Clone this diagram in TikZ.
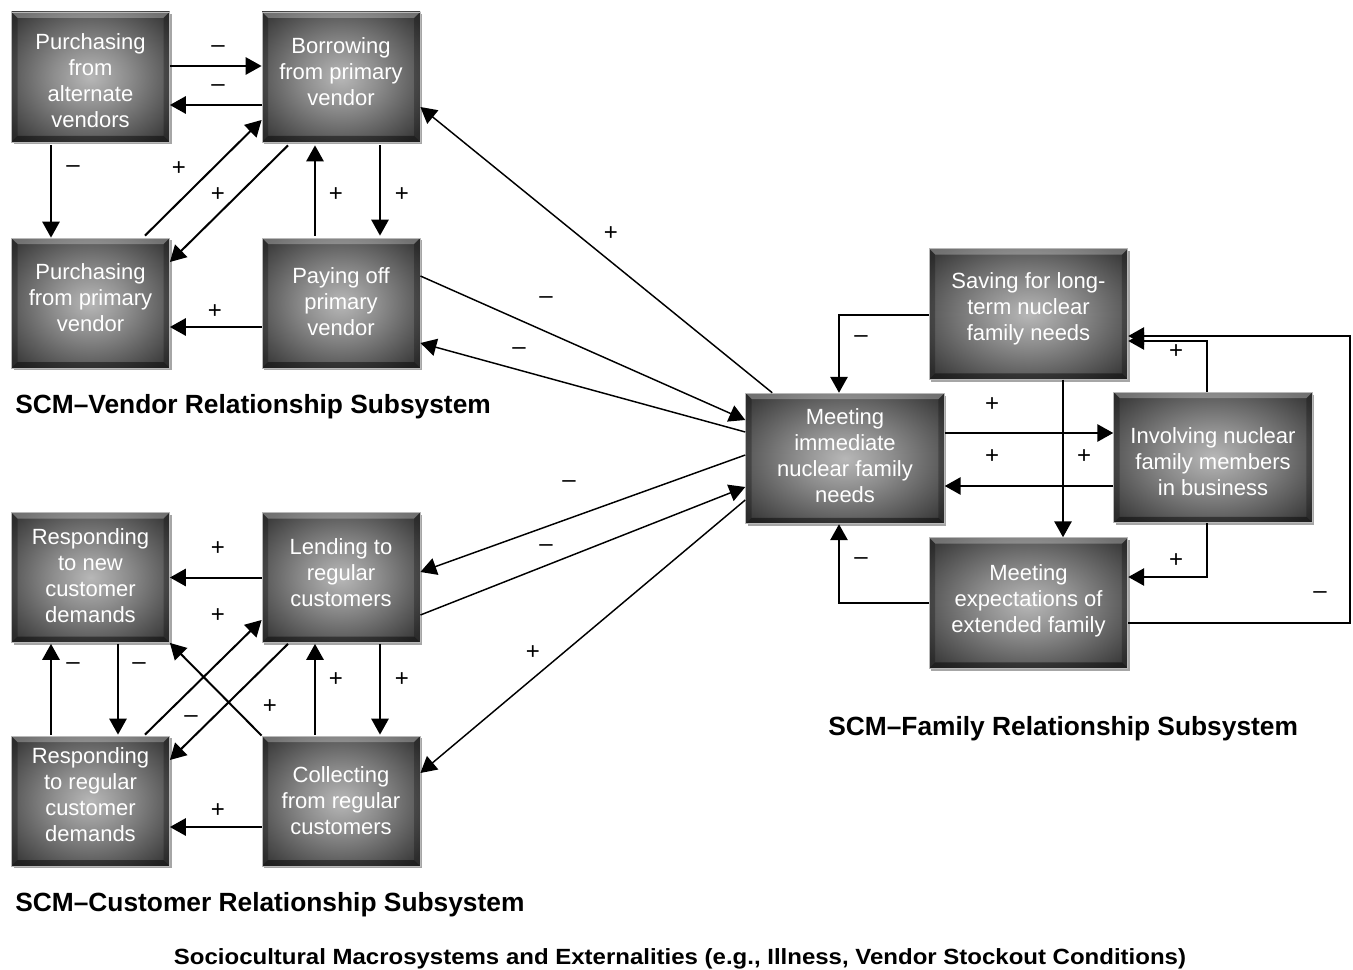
\documentclass[tikz,border=0pt]{standalone}
\usepackage{fontspec}
\setmainfont{Liberation Sans}
\usetikzlibrary{arrows.meta,calc,shadows}
\pgfdeclareradialshading{boxglow}{\pgfpoint{0bp}{0bp}}{color(0bp)=(black!28); color(12bp)=(black!45); color(32bp)=(black!76); color(50bp)=(black!88); color(72bp)=(black!94)}
\newcommand\liftt[2]{\raisebox{#1}[\height][\depth]{\begin{tabular}{@{}c@{}}#2\end{tabular}}}
\begin{document}
\begin{tikzpicture}[x=0.75pt,y=-0.75pt,
  box/.style={draw=gray!55, line width=0.6pt, shading=boxglow, text=white, align=center,
    font=\fontsize{16.5}{19.5}\selectfont, minimum width=118.5pt, minimum height=97.5pt, inner sep=0pt,
    drop shadow={shadow xshift=1.5pt, shadow yshift=-1.8pt, opacity=0.35, fill=black},
    path picture={
      \fill[white, opacity=0.28] (path picture bounding box.north west) -- (path picture bounding box.north east)
        -- ([shift={(-4.5pt,-4.5pt)}]path picture bounding box.north east) -- ([shift={(4.5pt,-4.5pt)}]path picture bounding box.north west) -- cycle;
      \fill[black, opacity=0.45] (path picture bounding box.south west) -- (path picture bounding box.south east)
        -- ([shift={(-4.5pt,4.5pt)}]path picture bounding box.south east) -- ([shift={(4.5pt,4.5pt)}]path picture bounding box.south west) -- cycle;
      \fill[black, opacity=0.25] (path picture bounding box.north west) -- (path picture bounding box.south west)
        -- ([shift={(4.5pt,4.5pt)}]path picture bounding box.south west) -- ([shift={(4.5pt,-4.5pt)}]path picture bounding box.north west) -- cycle;
      \fill[black, opacity=0.25] (path picture bounding box.north east) -- (path picture bounding box.south east)
        -- ([shift={(-4.5pt,4.5pt)}]path picture bounding box.south east) -- ([shift={(-4.5pt,-4.5pt)}]path picture bounding box.north east) -- cycle;
    }},
  fbox/.style={box, minimum width=149pt, minimum height=98pt},
  arr/.style={line width=1.5pt, -{Triangle[length=12pt,width=13pt]}},
  longarr/.style={line width=1.1pt, -{Triangle[length=12pt,width=13pt]}},
  lbl/.style={font=\fontsize{18}{18}\selectfont, inner sep=0pt},
  hd/.style={font=\bfseries\fontsize{19.75}{20}\selectfont, anchor=base west, inner sep=0pt}
]
\useasboundingbox (0,0) rectangle (1353,970);

% vendor subsystem
\node[box] (A) at (90.5,77) {\liftt{-4.9pt}{Purchasing\\from\\alternate\\vendors}};
\node[box] (B) at (341,77) {\liftt{2.25pt}{Borrowing\\from primary\\vendor}};
\node[box] (C) at (90.5,303) {\liftt{2.25pt}{Purchasing\\from primary\\vendor}};
\node[box] (D) at (341,303) {\liftt{-1.1pt}{Paying off\\primary\\vendor}};

% customer subsystem
\node[box] (E) at (90.5,577.5) {\liftt{-0.4pt}{Responding\\to new\\customer\\demands}};
\node[box] (F) at (341,577.5) {\liftt{1.5pt}{Lending to\\regular\\customers}};
\node[box] (G) at (90.5,801) {\liftt{3pt}{Responding\\to regular\\customer\\demands}};
\node[box] (H) at (341,801) {\liftt{-1.5pt}{Collecting\\from regular\\customers}};

% family subsystem
\node[fbox] (M) at (845,458.5) {\liftt{0.4pt}{Meeting\\immediate\\nuclear family\\needs}};
\node[fbox] (S) at (1028.5,314) {\liftt{3.75pt}{Saving for long-\\term nuclear\\family needs}};
\node[fbox] (I) at (1213,457.5) {\liftt{-4.9pt}{Involving nuclear\\family members\\in business}};
\node[fbox] (X) at (1028.5,603) {\liftt{1.1pt}{Meeting\\expectations of\\extended family}};

% vendor connectors
\draw[arr] ($(A.east)+(0,-11)$) -- ($(B.west)+(0,-11)$);
\draw[arr] ($(B.west)+(0,28)$) -- ($(A.east)+(0,28)$);
\draw[arr] ($(A.south)+(-39.5,3)$) -- ($(C.north)+(-39.5,0)$);
\draw[arr] ($(C.north)+(54.5,-2)$) -- ($(B.west)+(0,43)$);
\draw[arr] ($(B.south)+(-53,3)$) -- ($(C.east)+(0,-41)$);
\draw[arr] ($(D.north)+(-26,-2)$) -- ($(B.south)+(-26,3)$);
\draw[arr] ($(B.south)+(39,3)$) -- ($(D.north)+(39,-2)$);
\draw[arr] ($(D.west)+(0,24)$) -- ($(C.east)+(0,24)$);

% customer connectors
\draw[arr] (F.west) -- (E.east);
\draw[arr] ($(G.north)+(54.5,-1)$) -- ($(F.west)+(0,42.5)$);
\draw[arr] ($(F.south)+(-53,1)$) -- ($(G.east)+(0,-41)$);
\draw[arr] (H.north west) -- (E.south east);
\draw[arr] ($(G.north)+(-39.5,-1)$) -- ($(E.south)+(-39.5,1)$);
\draw[arr] ($(E.south)+(27.5,1)$) -- ($(G.north)+(27.5,-1)$);
\draw[arr] ($(H.north)+(-26,-1)$) -- ($(F.south)+(-26,1)$);
\draw[arr] ($(F.south)+(39,1)$) -- ($(H.north)+(39,-1)$);
\draw[arr] ($(H.west)+(0,26)$) -- ($(G.east)+(0,26)$);

% cross-subsystem connectors
\draw[longarr] ($(M.north west)+(27,0)$) -- ($(B.east)+(0,30)$);
\draw[longarr] ($(D.east)+(0,-27)$) -- ($(M.west)+(0,-38.5)$);
\draw[longarr] ($(M.west)+(0,-26.5)$) -- ($(D.east)+(0,40)$);
\draw[longarr] ($(M.west)+(0,-3.5)$) -- ($(F.east)+(0,-5.5)$);
\draw[longarr] ($(F.east)+(0,37.5)$) -- ($(M.west)+(0,28.5)$);
\draw[longarr] ($(M.west)+(0,41.5)$) -- ($(H.east)+(0,-28)$);

% family connectors
\draw[arr] ($(S.west)+(0,1)$) -| ($(M.north)+(-6,0)$);
\draw[arr] ($(M.east)+(0,-25.5)$) -- ($(I.west)+(0,-24.5)$);
\draw[arr] ($(I.west)+(0,28.5)$) -- ($(M.east)+(0,27.5)$);
\draw[arr] ($(S.south)+(34.5,0)$) -- ($(X.north)+(34.5,0)$);
\draw[arr] ($(I.north)+(-6,0)$) |- ($(S.east)+(0,27)$);
\draw[arr] ($(I.south)+(-6,0)$) |- ($(X.east)+(0,-26)$);
\draw[arr] (X.west) -| ($(M.south)+(-6,0)$);
\draw[arr] ($(X.east)+(0,20)$) -- ++(222,0) |- ($(S.east)+(0,22)$);

% polarity labels
\node[lbl] (l1) at (218,49) {–};
\node[lbl] (l2) at (218,88) {–};
\node[lbl] (l3) at (73,169) {–};
\node[lbl] (l4) at (179,169) {+};
\node[lbl] (l5) at (218,195) {+};
\node[lbl] (l6) at (336,195) {+};
\node[lbl] (l7) at (402,195) {+};
\node[lbl] (l8) at (215,312) {+};
\node[lbl] (l9) at (218,549) {+};
\node[lbl] (l10) at (218,616) {+};
\node[lbl] (l11) at (191,719) {–};
\node[lbl] (l12) at (270,707) {+};
\node[lbl] (l13) at (73,666) {–};
\node[lbl] (l14) at (139,666) {–};
\node[lbl] (l15) at (336,680) {+};
\node[lbl] (l16) at (402,680) {+};
\node[lbl] (l17) at (218,811) {+};
\node[lbl] (l18) at (611,234) {+};
\node[lbl] (l19) at (546,300) {–};
\node[lbl] (l20) at (519,351) {–};
\node[lbl] (l21) at (569,484) {–};
\node[lbl] (l22) at (546,548) {–};
\node[lbl] (l23) at (533,653) {+};
\node[lbl] (l24) at (861,339) {–};
\node[lbl] (l25) at (992,405) {+};
\node[lbl] (l26) at (992,457) {+};
\node[lbl] (l27) at (1084,457) {+};
\node[lbl] (l28) at (1176,352) {+};
\node[lbl] (l29) at (1176,561) {+};
\node[lbl] (l30) at (861,561) {–};
\node[lbl] (l31) at (1320,595) {–};

% headings
\node[hd] (hv) at (15,413) {SCM–Vendor Relationship Subsystem};
\node[hd] (hc) at (15,911) {SCM–Customer Relationship Subsystem};
\node[hd] (hf) at (828,735) {SCM–Family Relationship Subsystem};
\node[inner sep=0pt, anchor=base] (foot) at (680,964) {\resizebox{759pt}{\height}{\bfseries\fontsize{16.5}{17}\selectfont Sociocultural Macrosystems and Externalities (e.g., Illness, Vendor Stockout Conditions)}};
\end{tikzpicture}
\end{document}
